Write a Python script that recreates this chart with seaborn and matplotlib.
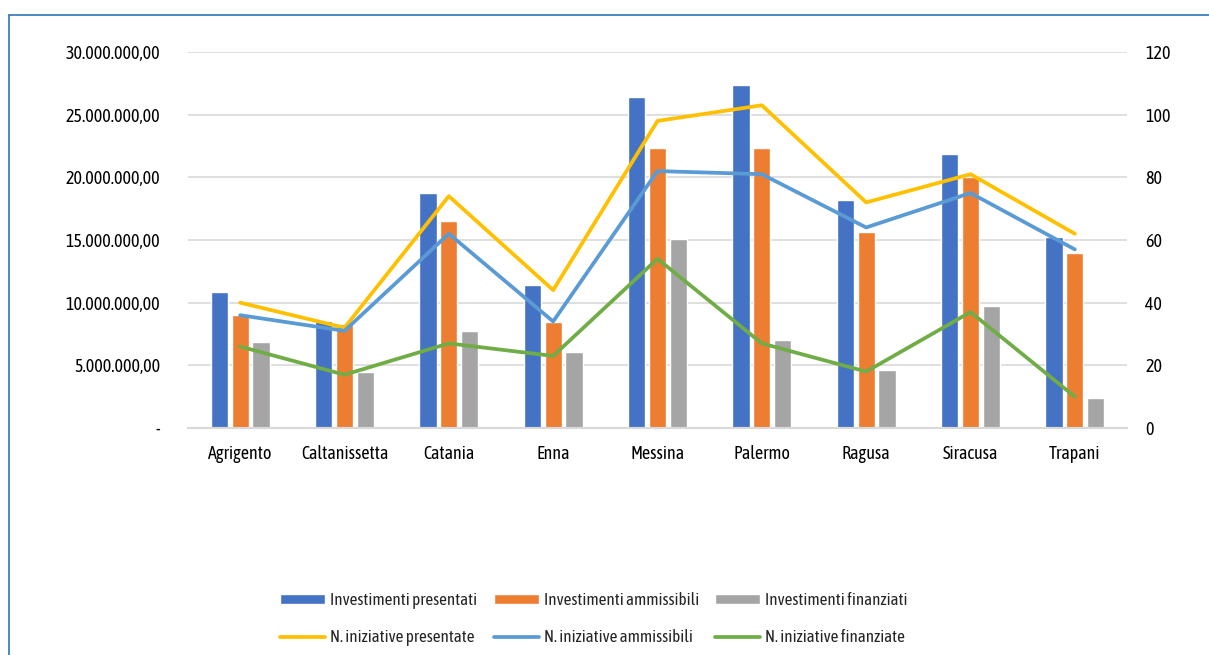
import numpy as np
import pandas as pd
import matplotlib
matplotlib.use("Agg")
import matplotlib.pyplot as plt
from matplotlib.lines import Line2D
from matplotlib.patches import Patch
from matplotlib.ticker import FuncFormatter, FixedLocator
import seaborn as sns

# %%
# dati
province = ["Agrigento", "Caltanissetta", "Catania", "Enna", "Messina",
            "Palermo", "Ragusa", "Siracusa", "Trapani"]

inv_presentati = [10.85e6, 8.51e6, 18.72e6, 11.41e6, 26.41e6, 27.34e6, 18.16e6, 21.84e6, 15.24e6]
inv_ammissibili = [9.04e6, 8.27e6, 16.54e6, 8.46e6, 22.37e6, 22.37e6, 15.61e6, 20.03e6, 13.96e6]
inv_finanziati = [6.84e6, 4.44e6, 7.74e6, 6.09e6, 15.05e6, 7.00e6, 4.63e6, 9.73e6, 2.42e6]

n_presentate = [40, 32, 74, 44, 98, 103, 72, 81, 62]
n_ammissibili = [36, 31, 62, 34, 82, 81, 64, 75, 57]
n_finanziate = [26, 17, 27, 23, 54, 27, 18, 37, 10]

bar_names = ["Investimenti presentati", "Investimenti ammissibili", "Investimenti finanziati"]
line_names = ["N. iniziative presentate", "N. iniziative ammissibili", "N. iniziative finanziate"]
bar_colors = ["#4472C4", "#ED7D31", "#A5A5A5"]
line_colors = ["#FFC000", "#5B9BD5", "#70AD47"]

# %%
bars = pd.DataFrame({
    "Provincia": province * 3,
    "Serie": [bar_names[0]] * 9 + [bar_names[1]] * 9 + [bar_names[2]] * 9,
    "Valore": inv_presentati + inv_ammissibili + inv_finanziati,
})
lines = pd.DataFrame({
    "pos": list(range(9)) * 3,
    "Serie": [line_names[0]] * 9 + [line_names[1]] * 9 + [line_names[2]] * 9,
    "Numero": n_presentate + n_ammissibili + n_finanziate,
})

# %%
sns.set_style("white")
plt.rcParams["font.family"] = ["Asap Condensed", "Archivo Narrow", "DejaVu Sans"]
plt.rcParams["font.size"] = 13

fig = plt.figure(figsize=(12.09, 6.55), dpi=100)
ax = fig.add_axes([188 / 1209, 1 - 428 / 655, (1127 - 188) / 1209, (428 - 52) / 655])

sns.barplot(data=bars, x="Provincia", y="Valore", hue="Serie", hue_order=bar_names,
            palette=bar_colors, width=0.6, gap=0.18, saturation=1, legend=False, ax=ax)

ax2 = ax.twinx()
sns.lineplot(data=lines, x="pos", y="Numero", hue="Serie", hue_order=line_names,
             palette=line_colors, linewidth=2.7, sort=False, legend=False, ax=ax2)

# assi
ax.set_xlim(-0.5, 8.5)
ax.set_ylim(0, 30e6)
ax2.set_ylim(0, 120)
ax.set_yticks(np.arange(0, 30e6 + 1, 5e6))
ax2.set_yticks(np.arange(0, 121, 20))


def fmt_euro(v, pos):
    if v == 0:
        return "-"
    s = f"{v:,.2f}"
    return s.replace(",", "X").replace(".", ",").replace("X", ".")


ax.yaxis.set_major_formatter(FuncFormatter(fmt_euro))
ax.set_xlabel("")
ax.set_ylabel("")
ax2.set_xlabel("")
ax2.set_ylabel("")

ax.grid(axis="y", color="#D9D9D9", linewidth=1.2)
ax.grid(axis="x", visible=False)
ax.set_axisbelow(True)

for a in (ax, ax2):
    for side in ["left", "right", "top"]:
        a.spines[side].set_visible(False)
    a.spines["bottom"].set_color("#D9D9D9")
    a.spines["bottom"].set_linewidth(1.5)

ax.tick_params(axis="y", length=0, pad=20, labelsize=13, colors="#000000")
ax2.tick_params(axis="y", length=0, pad=13, labelsize=13, colors="#000000")
ax.tick_params(axis="x", which="major", length=0, pad=12, labelsize=13, colors="#000000")
ax.xaxis.set_minor_locator(FixedLocator(np.arange(-0.5, 9, 1)))
ax.tick_params(axis="x", which="minor", length=5, width=1.5, color="#D9D9D9")

# legenda
handles = []
for i in range(3):
    handles.append(Patch(facecolor=bar_colors[i], label=bar_names[i]))
    handles.append(Line2D([0], [0], color=line_colors[i], lw=2.7, label=line_names[i]))
fig.legend(handles=handles, ncol=3, loc="center", bbox_to_anchor=(594 / 1209, 1 - 619 / 655),
           frameon=False, fontsize=12.3, handlelength=2.63, handleheight=0.53,
           handletextpad=0.3, columnspacing=0.94, labelspacing=1.2)

# cornice
fig.add_artist(Line2D([9 / 1209, 9 / 1209], [0, 1 - 15 / 655], color="#2E75B6", lw=1.2))
fig.add_artist(Line2D([9 / 1209, 1], [1 - 15 / 655, 1 - 15 / 655], color="#2E75B6", lw=1.2))

fig.savefig("out.png", dpi=100)
